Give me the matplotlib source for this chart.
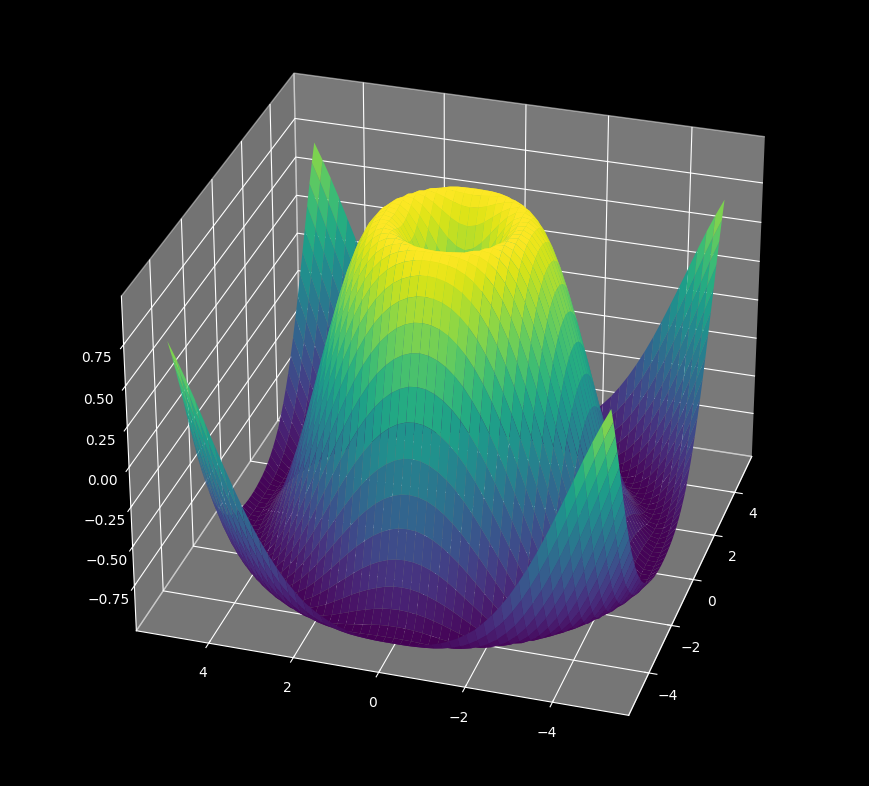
import numpy as np
import matplotlib
matplotlib.use('Agg')
import matplotlib.pyplot as plt

# grid coordinates along both axes
grid_x = [-5.0, -4.8, -4.6, -4.4, -4.2, -4.0, -3.8, -3.6, -3.4, -3.2, -3.0, -2.8, -2.6, -2.4, -2.2, -2.0, -1.8,
          -1.6, -1.4, -1.2, -1.0, -0.8, -0.6, -0.4, -0.2, 0.0, 0.2, 0.4, 0.6, 0.8, 1.0, 1.2, 1.4, 1.6, 1.8,
          2.0, 2.2, 2.4, 2.6, 2.8, 3.0, 3.2, 3.4, 3.6, 3.8, 4.0, 4.2, 4.4, 4.6, 4.8, 5.0]
z_ticks = [-0.75, -0.5, -0.25, 0.0, 0.25, 0.5, 0.75]

# surface height, one quadrant only: row j holds |x| steps j..25, in 0.2 steps
height_rows = [
    [0.000, 0.199, 0.389, 0.565, 0.717, 0.841, 0.932, 0.985, 1.000, 0.974, 0.909, 0.808, 0.675, 0.516, 0.335, 0.141, -0.058, -0.256, -0.443, -0.612, -0.757, -0.872, -0.952, -0.994, -0.996, -0.959],
    [0.279, 0.433, 0.591, 0.735, 0.852, 0.938, 0.988, 0.999, 0.971, 0.905, 0.803, 0.669, 0.509, 0.329, 0.135, -0.064, -0.261, -0.447, -0.616, -0.760, -0.875, -0.953, -0.994, -0.996, -0.958],
    [0.536, 0.660, 0.780, 0.881, 0.954, 0.993, 0.997, 0.963, 0.892, 0.787, 0.651, 0.489, 0.308, 0.115, -0.083, -0.278, -0.462, -0.628, -0.770, -0.881, -0.957, -0.995, -0.995, -0.954],
    [0.750, 0.841, 0.919, 0.974, 0.999, 0.990, 0.948, 0.869, 0.759, 0.620, 0.456, 0.275, 0.082, -0.114, -0.306, -0.487, -0.648, -0.787, -0.892, -0.963, -0.997, -0.992, -0.947],
    [0.905, 0.958, 0.992, 0.999, 0.976, 0.922, 0.835, 0.718, 0.574, 0.409, 0.228, 0.037, -0.156, -0.344, -0.520, -0.675, -0.807, -0.906, -0.971, -0.999, -0.988, -0.939],
    [0.988, 1.000, 0.989, 0.950, 0.884, 0.787, 0.663, 0.516, 0.350, 0.168, -0.021, -0.209, -0.392, -0.561, -0.708, -0.831, -0.922, -0.981, -1.000, -0.982, -0.926],
    [0.992, 0.963, 0.909, 0.829, 0.724, 0.594, 0.442, 0.275, 0.095, -0.089, -0.273, -0.447, -0.607, -0.747, -0.858, -0.941, -0.988, -0.999, -0.972, -0.910],
    [0.918, 0.850, 0.759, 0.644, 0.509, 0.356, 0.188, 0.011, -0.168, -0.344, -0.511, -0.660, -0.790, -0.890, -0.959, -0.995, -0.996, -0.959, -0.887],
    [0.770, 0.669, 0.548, 0.409, 0.255, 0.089, -0.083, -0.256, -0.423, -0.578, -0.716, -0.831, -0.919, -0.977, -0.999, -0.987, -0.940, -0.859],
    [0.561, 0.435, 0.294, 0.141, -0.021, -0.186, -0.349, -0.506, -0.648, -0.773, -0.875, -0.948, -0.990, -0.999, -0.974, -0.916, -0.825],
    [0.308, 0.168, 0.018, -0.138, -0.295, -0.447, -0.591, -0.720, -0.828, -0.913, -0.971, -0.998, -0.993, -0.954, -0.883, -0.785],
    [0.030, -0.114, -0.261, -0.407, -0.547, -0.675, -0.790, -0.881, -0.949, -0.989, -0.999, -0.979, -0.926, -0.843, -0.731],
    [-0.250, -0.386, -0.520, -0.644, -0.757, -0.852, -0.927, -0.977, -0.999, -0.992, -0.955, -0.889, -0.791, -0.672],
    [-0.511, -0.628, -0.736, -0.831, -0.908, -0.963, -0.994, -0.998, -0.974, -0.922, -0.841, -0.735, -0.602],
    [-0.730, -0.820, -0.896, -0.953, -0.988, -1.000, -0.986, -0.944, -0.876, -0.785, -0.664, -0.524],
    [-0.892, -0.948, -0.984, -1.000, -0.992, -0.959, -0.902, -0.820, -0.713, -0.583, -0.436],
    [-0.983, -0.999, -0.995, -0.968, -0.918, -0.843, -0.746, -0.627, -0.491, -0.340],
    [-0.996, -0.971, -0.926, -0.859, -0.771, -0.660, -0.534, -0.390, -0.235],
    [-0.928, -0.867, -0.787, -0.680, -0.564, -0.428, -0.279, -0.122],
    [-0.790, -0.691, -0.579, -0.452, -0.311, -0.161, -0.003],
    [-0.586, -0.465, -0.331, -0.186, -0.035, 0.119],
    [-0.337, -0.199, -0.054, 0.095, 0.244],
    [-0.060, 0.083, 0.226, 0.370],
    [0.219, 0.359, 0.490],
    [0.485, 0.602],
    [0.706],
]

X, Y = np.meshgrid(grid_x, grid_x)
Z = np.zeros(X.shape)
for r in range(X.shape[0]):
    for c in range(X.shape[1]):
        a = int(round(abs(X[r, c]) * 5))
        b = int(round(abs(Y[r, c]) * 5))
        Z[r, c] = height_rows[min(a, b)][abs(a - b)]

plt.style.use('dark_background')
fig = plt.figure(figsize=(8.7, 7.86), dpi=100)
ax = fig.add_subplot(111, projection='3d')
ax.plot_surface(X, Y, Z, cmap='viridis', rstride=1, cstride=1)
ax.set_zlim(-1.04, 1.04)
ax.set_zticks(z_ticks)
ax.view_init(elev=30, azim=197)
ax.set_box_aspect(None, zoom=0.995)
ax.set_position([0.01, 0.002, 1.0, 1.0])
plt.savefig('out.png', dpi=100)
